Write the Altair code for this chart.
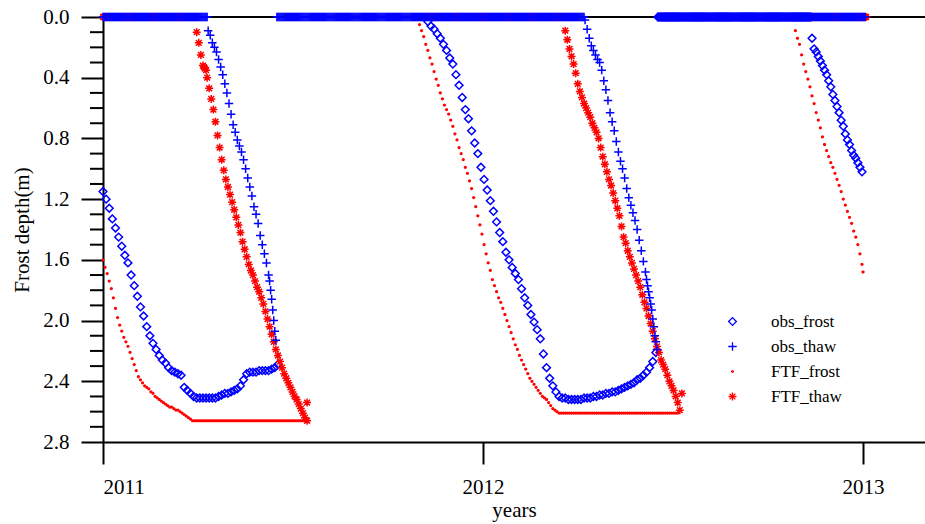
import altair as alt
import pandas as pd

# ---------------------------------------------------------------
# Data.  x = day index since 2011-01-01,
# y = depth (m).  Each segment: (first_day, step_days, depths)
# ---------------------------------------------------------------
series_order = ["obs_frost", "obs_thaw", "FTF_frost", "FTF_thaw"]

obs_frost_segments = [
    (0, 3, [1.15, 1.20, 1.26, 1.33, 1.39, 1.45, 1.51, 1.57, 1.62, 1.70,
            1.77, 1.84, 1.91, 1.97, 2.04, 2.10, 2.15, 2.19, 2.23, 2.26,
            2.28, 2.31, 2.33, 2.34, 2.35, 2.36, 2.44, 2.46, 2.48, 2.50,
            2.51, 2.51, 2.51, 2.51, 2.51, 2.51, 2.51, 2.50, 2.49, 2.48,
            2.48, 2.47, 2.46, 2.45, 2.43, 2.39, 2.35, 2.34, 2.34, 2.34,
            2.33, 2.33, 2.33, 2.33, 2.32, 2.31, 2.29]),
    (312, 3, [0.03, 0.06, 0.08, 0.11, 0.14, 0.18, 0.22, 0.27, 0.31, 0.38,
              0.45, 0.53, 0.61, 0.67, 0.75, 0.83, 0.90, 0.99, 1.07, 1.14,
              1.21, 1.28, 1.35, 1.42, 1.48, 1.55, 1.60, 1.65, 1.69, 1.73,
              1.79, 1.85, 1.90, 1.96, 2.01, 2.06, 2.12, 2.22, 2.31, 2.38,
              2.43, 2.47, 2.50, 2.51, 2.51, 2.52, 2.52, 2.52, 2.52, 2.52,
              2.51, 2.51, 2.51, 2.50, 2.50, 2.49, 2.49, 2.48, 2.48, 2.47,
              2.47, 2.46, 2.45, 2.44, 2.43, 2.42, 2.41, 2.39, 2.38, 2.36,
              2.34, 2.31, 2.27, 2.21]),
    (681, 1, [0.14]),
    (683, 2, [0.21, 0.23, 0.26, 0.29, 0.32, 0.35, 0.38, 0.42, 0.46, 0.51,
              0.55, 0.59, 0.63, 0.68, 0.72, 0.77, 0.81, 0.84, 0.88, 0.91,
              0.93, 0.96, 0.99, 1.02]),
]

obs_thaw_segments = [
    (101, 2, [0.09, 0.12, 0.17, 0.20, 0.23, 0.28, 0.33, 0.38, 0.44, 0.50,
              0.57, 0.64, 0.71, 0.76, 0.81, 0.85, 0.89, 0.94, 1.00, 1.06,
              1.12, 1.18, 1.25, 1.30, 1.36, 1.44, 1.50, 1.56, 1.62, 1.70]),
    (160, 1, [1.74, 1.80, 1.86, 1.93, 2.00, 2.07, 2.13]),
    (463, 2, [0.02, 0.08, 0.14, 0.19, 0.22, 0.25, 0.28, 0.30, 0.35, 0.42,
              0.48, 0.55, 0.63, 0.69, 0.75, 0.82, 0.89, 0.95, 1.00, 1.06,
              1.13, 1.19, 1.24, 1.29, 1.34, 1.40, 1.47, 1.54, 1.61, 1.68]),
    (522, 1, [1.73, 1.77, 1.81, 1.85, 1.89, 1.93, 1.99, 2.04, 2.10, 2.14, 2.19]),
]

ftf_frost_segments = [
    (0, 2, [1.60, 1.65, 1.69, 1.74, 1.79, 1.85, 1.92, 1.98, 2.03, 2.07,
            2.11, 2.14, 2.17, 2.21, 2.25, 2.29, 2.33, 2.37, 2.39, 2.41,
            2.43, 2.44, 2.45, 2.47, 2.48, 2.50, 2.51, 2.52, 2.53, 2.54,
            2.55, 2.56, 2.57, 2.57, 2.58, 2.59, 2.59, 2.60, 2.61, 2.62,
            2.63, 2.64, 2.65, 2.66]),
    (304, 2, [0.05, 0.09, 0.13, 0.18, 0.22, 0.27, 0.31, 0.36, 0.41, 0.45,
              0.50, 0.54, 0.58, 0.61, 0.64, 0.68, 0.72, 0.77, 0.81, 0.86,
              0.90, 0.94, 0.99, 1.03, 1.08, 1.13, 1.19, 1.25, 1.31, 1.37,
              1.43, 1.50, 1.56, 1.62, 1.67, 1.73, 1.77, 1.81, 1.85, 1.88,
              1.92, 1.96, 2.00, 2.04, 2.08, 2.12, 2.16, 2.19, 2.23, 2.26,
              2.29, 2.32, 2.35, 2.38, 2.40, 2.42, 2.44, 2.46, 2.48, 2.50,
              2.51, 2.52, 2.54, 2.56, 2.58, 2.59, 2.60, 2.61]),
    (665, 2, [0.09, 0.14, 0.18, 0.25, 0.31, 0.36, 0.41, 0.46, 0.52, 0.57,
              0.63, 0.68, 0.73, 0.79, 0.84, 0.88, 0.92, 0.96, 0.99, 1.03,
              1.07, 1.11, 1.15, 1.20, 1.24, 1.28, 1.32, 1.36, 1.41, 1.45,
              1.50, 1.56, 1.63]),
    (730, 1, [1.68]),
]

ftf_thaw_segments = [
    (90, 2, [0.10, 0.17, 0.25, 0.32, 0.34, 0.40, 0.47, 0.54, 0.61, 0.69,
             0.78, 0.86, 0.94, 1.01, 1.07, 1.12, 1.17, 1.22, 1.27, 1.32,
             1.37, 1.42, 1.48, 1.53, 1.58, 1.63, 1.67, 1.70, 1.74, 1.78,
             1.81, 1.85, 1.89, 1.94, 1.99, 2.04, 2.09, 2.14, 2.19, 2.23,
             2.27, 2.31, 2.35, 2.38, 2.41, 2.44, 2.47, 2.50, 2.52, 2.55,
             2.58, 2.61, 2.64, 2.66]),
    (97, 2, [0.33, 0.35]),
    (196, 1, [2.54]),
    (444, 2, [0.09, 0.15, 0.21, 0.26, 0.31, 0.37, 0.44, 0.49, 0.53, 0.57,
              0.60, 0.63, 0.66, 0.70, 0.73, 0.76, 0.80, 0.86, 0.92, 0.97,
              1.02, 1.07, 1.11, 1.16, 1.21, 1.26, 1.31, 1.38, 1.45, 1.49,
              1.54, 1.58, 1.62, 1.66, 1.70, 1.74, 1.78, 1.83, 1.88, 1.92,
              1.97, 2.02, 2.07, 2.12, 2.17, 2.21, 2.26, 2.29, 2.32, 2.36,
              2.40, 2.43, 2.46, 2.50, 2.54, 2.59]),
    (556, 1, [2.48]),
]

# constant stretches: (first_day, last_day, step, depth)
obs_frost_flat = [(533, 680, 1, 0.0)]
obs_thaw_flat = [(0, 100, 1, 0.0), (167, 462, 1, 0.0), (681, 732, 1, 0.0)]
ftf_frost_flat = [(88, 196, 2, 2.66), (440, 552, 2, 2.61),
                  (197, 303, 1, 0.0), (555, 664, 1, 0.0)]
ftf_thaw_flat = [(0, 89, 1, 0.0), (305, 443, 1, 0.0), (665, 733, 1, 0.0)]

x_tick_values = [2011, 2012, 2013]
y_major_ticks = [0.0, 0.4, 0.8, 1.2, 1.6, 2.0, 2.4, 2.8]
y_minor_ticks = [0.1, 0.2, 0.3, 0.5, 0.6, 0.7, 0.9, 1.0, 1.1, 1.3, 1.4, 1.5,
                 1.7, 1.8, 1.9, 2.1, 2.2, 2.3, 2.5, 2.6, 2.7]
x_domain = [2011, 2013.163]
y_domain = [0, 2.8]

# ---------------------------------------------------------------
def rows(name, segments, flats):
    out_flat, out_curve = [], []
    for start, end, step, val in flats:
        for d in range(start, end + 1, step):
            (out_flat if val == 0.0 else out_curve).append(
                {"series": name, "day": d, "depth": val})
    for start, step, vals in segments:
        for i, v in enumerate(vals):
            out_curve.append({"series": name, "day": start + step * i, "depth": v})
    return out_flat, out_curve

parts = {}
for name, segs, flats in [("FTF_frost", ftf_frost_segments, ftf_frost_flat),
                          ("FTF_thaw", ftf_thaw_segments, ftf_thaw_flat),
                          ("obs_frost", obs_frost_segments, obs_frost_flat),
                          ("obs_thaw", obs_thaw_segments, obs_thaw_flat)]:
    parts[name] = rows(name, segs, flats)

ordered = (parts["FTF_frost"][0] + parts["FTF_thaw"][0] +
           parts["obs_frost"][0] + parts["obs_thaw"][0] +
           parts["FTF_frost"][1] + parts["obs_frost"][1] +
           parts["FTF_thaw"][1] + parts["obs_thaw"][1])
df = pd.DataFrame(ordered)
df["year"] = 2011 + df["day"] / 365.0
df["idx"] = range(len(df))

PLUS = "M-1,0L1,0M0,-1L0,1"
ASTER = "M-1,0L1,0M0,-1L0,1M-0.72,-0.72L0.72,0.72M-0.72,0.72L0.72,-0.72"

FONT = "Liberation Serif"
leg = alt.Legend(title=None, orient="none", legendX=621, legendY=296,
                 labelFont=FONT, labelFontSize=17, labelColor="black",
                 labelOffset=30, rowPadding=7, padding=0,
                 symbolStrokeWidth=1.3)

yscale = alt.Scale(domain=y_domain, reverse=True, nice=False, zero=False)

points = alt.Chart(df).mark_point(filled=False, strokeWidth=1.5, opacity=1).encode(
    x=alt.X("year:Q", scale=alt.Scale(domain=x_domain, nice=False, zero=False),
            axis=alt.Axis(values=x_tick_values, format="d", title="years",
                          tickSize=22, tickWidth=2, labelPadding=12,
                          titlePadding=2)),
    y=alt.Y("depth:Q", scale=yscale,
            axis=alt.Axis(values=y_major_ticks, title="Frost depth(m)", format=".1f",
                          tickSize=22, tickWidth=2, labelPadding=12, titlePadding=10)),
    color=alt.Color("series:N", scale=alt.Scale(domain=series_order,
                    range=["#0000FF", "#0000FF", "#FF0000", "#FF0000"]), legend=leg),
    shape=alt.Shape("series:N", scale=alt.Scale(domain=series_order,
                    range=["diamond", PLUS, "circle", ASTER]), legend=leg),
    size=alt.Size("series:N", scale=alt.Scale(type="ordinal", domain=series_order,
                  range=[60, 72, 3, 64]), legend=leg),
    order=alt.Order("idx:Q"),
)

minor = alt.Chart(pd.DataFrame({"depth": y_minor_ticks})).mark_rule(
    color="black", strokeWidth=2).encode(
    y=alt.Y("depth:Q", scale=yscale), x=alt.value(-13), x2=alt.value(0))

top_line = alt.Chart(pd.DataFrame({"depth": [0.0]})).mark_rule(
    color="black", strokeWidth=2).encode(y=alt.Y("depth:Q", scale=yscale))

chart = alt.layer(top_line, minor, points).properties(
    width=822, height=425,
    autosize=alt.AutoSizeParams(type="none"),
    padding={"left": 103, "top": 17, "right": 0, "bottom": 82},
).configure_view(stroke=None).configure_axis(
    labelFont=FONT, titleFont=FONT, labelFontSize=21, titleFontSize=21,
    titleFontWeight="normal", labelColor="black", titleColor="black",
    domainColor="black", tickColor="black", domainWidth=2, grid=False,
)

chart.save("out.html", embed_options={"renderer": "svg", "actions": False})
